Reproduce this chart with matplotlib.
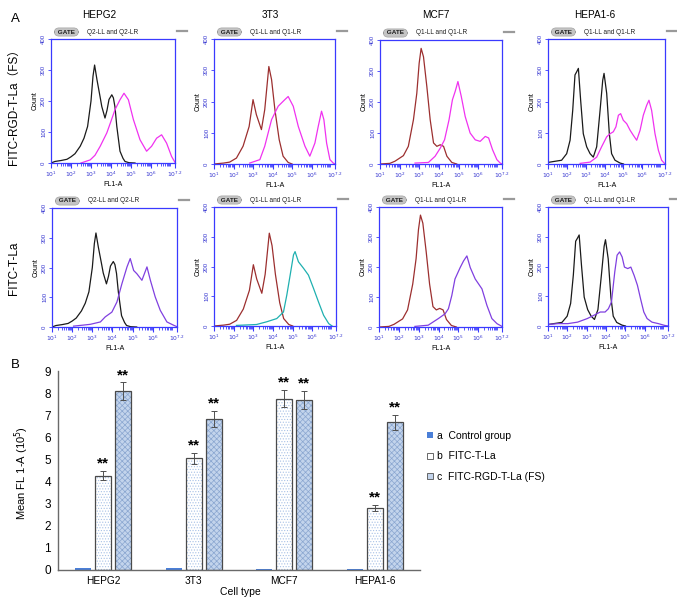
import matplotlib
matplotlib.use('Agg')
import matplotlib.pyplot as plt
import numpy as np
from matplotlib.lines import Line2D
from matplotlib.patches import Patch

plt.rcParams['font.family'] = ['Liberation Sans', 'DejaVu Sans']
plt.rcParams['hatch.linewidth'] = 0.5

# ---------------- data: panel A (log10 FL1-A, count) ----------------
cells = ['HEPG2', '3T3', 'MCF7', 'HEPA1-6']
gates = ['Q2-LL and Q2-LR', 'Q1-LL and Q1-LR', 'Q1-LL and Q1-LR', 'Q1-LL and Q1-LR']

hepg2_ctrl_u = [1.0, 1.2, 1.5, 1.8, 2.0, 2.2, 2.46, 2.65, 2.83, 3.0, 3.1, 3.18, 3.3, 3.45, 3.54, 3.7, 3.8, 3.9, 4.04, 4.12, 4.2, 4.29, 4.45, 4.6, 4.7, 4.9, 5.2]
hepg2_ctrl_c = [0, 5, 8, 12, 20, 30, 54, 80, 118, 200, 280, 316, 268, 215, 182, 145, 170, 205, 220, 210, 180, 118, 38, 15, 5, 1, 0]
hepg2_fs_u = [2.5, 2.96, 3.2, 3.46, 3.79, 4.0, 4.2, 4.45, 4.65, 4.87, 5.12, 5.45, 5.78, 6.03, 6.28, 6.53, 6.78, 7.03, 7.2]
hepg2_fs_c = [0, 10, 25, 54, 97, 135, 172, 204, 225, 204, 140, 75, 38, 54, 80, 91, 64, 21, 2]
hepg2_t_u = [2.07, 2.5, 2.9, 3.4, 3.64, 3.97, 4.22, 4.47, 4.72, 4.88, 5.05, 5.21, 5.46, 5.71, 5.88, 6.12, 6.37, 6.7, 7.03, 7.2]
hepg2_t_c = [3, 6, 9, 17, 34, 50, 84, 146, 202, 230, 190, 179, 157, 202, 157, 101, 56, 17, 6, 1]

t3_ctrl_u = [1.0, 1.5, 1.8, 2.15, 2.49, 2.8, 3.0, 3.17, 3.43, 3.6, 3.81, 3.95, 4.12, 4.34, 4.54, 4.8, 5.0]
t3_ctrl_c = [0, 3, 6, 19, 57, 120, 206, 158, 110, 174, 312, 270, 174, 78, 25, 5, 0]
t3_fs_u = [2.83, 3.35, 3.6, 3.95, 4.29, 4.63, 4.8, 5.06, 5.32, 5.66, 5.91, 6.17, 6.34, 6.51, 6.63, 6.77, 6.94, 7.11, 7.2]
t3_fs_c = [3, 14, 57, 142, 185, 206, 216, 185, 120, 57, 25, 67, 120, 169, 142, 67, 14, 3, 0]
t3_t_u = [2.14, 3.16, 3.67, 4.19, 4.53, 4.7, 4.87, 5.04, 5.12, 5.29, 5.55, 5.8, 6.06, 6.31, 6.57, 6.83, 7.0]
t3_t_c = [2, 5, 14, 25, 47, 104, 171, 239, 250, 216, 194, 171, 126, 81, 36, 8, 0]

mcf7_ctrl_u = [1.0, 1.5, 1.76, 2.19, 2.44, 2.7, 2.87, 2.99, 3.09, 3.21, 3.38, 3.55, 3.72, 3.89, 4.06, 4.23, 4.4, 4.65, 4.9]
mcf7_ctrl_c = [0, 2, 9, 27, 57, 143, 228, 325, 373, 346, 250, 143, 68, 57, 62, 57, 25, 5, 0]
mcf7_fs_u = [2.78, 3.46, 3.8, 4.06, 4.28, 4.51, 4.68, 4.82, 4.96, 5.13, 5.33, 5.58, 5.84, 6.09, 6.35, 6.52, 6.72, 6.94, 7.11, 7.2]
mcf7_fs_c = [3, 5, 25, 51, 78, 143, 207, 234, 266, 218, 153, 100, 78, 73, 89, 84, 46, 14, 3, 0]
mcf7_t_u = [2.81, 3.48, 3.99, 4.33, 4.5, 4.67, 4.83, 5.09, 5.26, 5.43, 5.6, 5.85, 6.19, 6.44, 6.69, 6.95, 7.2]
mcf7_t_c = [2, 6, 28, 44, 61, 105, 160, 198, 220, 237, 198, 160, 127, 72, 28, 11, 2]

hepa_ctrl_u = [1.0, 1.3, 1.72, 1.99, 2.17, 2.31, 2.43, 2.52, 2.61, 2.73, 2.87, 3.05, 3.23, 3.4, 3.58, 3.76, 3.9, 3.97, 4.11, 4.25, 4.37, 4.55, 4.82, 5.0]
hepa_ctrl_c = [5, 8, 12, 33, 76, 172, 285, 295, 306, 204, 97, 55, 33, 22, 55, 172, 268, 290, 226, 97, 33, 12, 3, 0]
hepa_fs_u = [2.7, 3.23, 3.58, 3.84, 4.11, 4.29, 4.46, 4.6, 4.73, 4.85, 4.99, 5.17, 5.35, 5.52, 5.7, 5.88, 6.05, 6.23, 6.35, 6.49, 6.67, 6.85, 7.02, 7.2]
hepa_fs_c = [2, 6, 22, 55, 87, 97, 103, 119, 156, 161, 140, 129, 108, 92, 76, 108, 156, 188, 204, 172, 97, 44, 12, 0]
hepa_t_u = [1.0, 1.53, 2.03, 2.53, 3.03, 3.37, 3.7, 3.95, 4.12, 4.28, 4.45, 4.57, 4.7, 4.83, 4.95, 5.12, 5.28, 5.45, 5.62, 5.78, 5.95, 6.12, 6.37, 6.7, 7.03, 7.2]
hepa_t_c = [5, 8, 8, 13, 25, 36, 47, 47, 58, 81, 182, 238, 249, 232, 198, 193, 198, 170, 137, 92, 47, 25, 13, 8, 2, 0]

ctrl_curves = [(hepg2_ctrl_u, hepg2_ctrl_c), (t3_ctrl_u, t3_ctrl_c), (mcf7_ctrl_u, mcf7_ctrl_c), (hepa_ctrl_u, hepa_ctrl_c)]
fs_curves = [(hepg2_fs_u, hepg2_fs_c), (t3_fs_u, t3_fs_c), (mcf7_fs_u, mcf7_fs_c), (hepa_fs_u, hepa_fs_c)]
t_curves = [(hepg2_t_u, hepg2_t_c), (t3_t_u, t3_t_c), (mcf7_t_u, mcf7_t_c), (hepa_t_u, hepa_t_c)]

hist_xticks = [1, 2, 3, 4, 5, 6, 7.2]
hist_xlabels = [r'$10^{1}$', r'$10^{2}$', r'$10^{3}$', r'$10^{4}$', r'$10^{5}$', r'$10^{6}$', r'$10^{7.2}$']
hist_yticks = [0, 100, 200, 300, 400]

# ---------------- data: panel B ----------------
groups = ['HEPG2', '3T3', 'MCF7', 'HEPA1-6']
series_names = ['a  Control group', 'b  FITC-T-La', 'c  FITC-RGD-T-La (FS)']
ctrl_vals = [0.08, 0.08, 0.05, 0.06]
t_vals = [4.27, 5.05, 7.75, 2.82]
t_err = [0.22, 0.25, 0.40, 0.13]
fs_vals = [8.08, 6.82, 7.70, 6.68]
fs_err = [0.40, 0.36, 0.40, 0.33]
t_sig = ['**', '**', '**', '**']
fs_sig = ['**', '**', '**', '**']

# ---------------- figure ----------------
W, H = 677, 603
fig = plt.figure(figsize=(W / 100, H / 100), dpi=100)


def fax(l, r, t, b):
    return fig.add_axes([l / W, 1 - b / H, (r - l) / W, (b - t) / H])


def fx(px):
    return px / W


def fy(py):
    return 1 - py / H


SP = '#3a3aff'
TB = '#3434d0'
ctrl_colors = ['#1a1a1a', '#9c2f2f', '#9c2f2f', '#1a1a1a']
fs_color = '#f032f0'
t_colors = ['#8040e0', '#1fb0b0', '#8040e0', '#8040e0']

top_boxes = [(51, 175, 39, 163), (214, 335, 39, 164), (380, 502, 40, 164), (548, 665, 39, 164)]
bot_boxes = [(52, 177, 208, 327), (214, 336, 207, 326), (379, 502, 207, 327), (548, 668, 207, 326)]
title_x = [99, 270, 436, 595]

minor_ticks = [d + np.log10(k) for d in range(1, 8) for k in range(2, 10) if d + np.log10(k) < 7.2]


def setup_hist(ax, box, gate_text):
    ax.set_xlim(1, 7.2)
    ax.set_ylim(0, 400)
    for s in ax.spines.values():
        s.set_color(SP)
        s.set_linewidth(0.9)
    ax.set_xticks(hist_xticks)
    ax.set_xticklabels(hist_xlabels, fontsize=4.3, color=TB)
    ax.set_xticks(minor_ticks, minor=True)
    ax.tick_params(axis='x', which='major', length=3.5, width=0.8, color=SP, pad=1.2)
    ax.tick_params(axis='x', which='minor', length=2.5, width=0.6, color=SP)
    ax.set_yticks(hist_yticks)
    ax.set_yticklabels([str(v) for v in hist_yticks], rotation=90, va='center', fontsize=4.3, color=TB)
    ax.tick_params(axis='y', length=2, width=0.6, color=SP, pad=1.5)
    ax.set_ylabel('Count', fontsize=5, labelpad=2)
    ax.set_xlabel('FL1-A', fontsize=5, labelpad=1.5)
    l, r, t, b = box
    fig.text(fx(l + 5), fy(t - 7), ' GATE ', fontsize=4.6, fontweight='bold', va='center', ha='left',
             color='#202020',
             bbox=dict(boxstyle='round,pad=0.25,rounding_size=0.7', fc='#c4c4c4', ec='#9a9a9a', lw=0.4))
    fig.text(fx(l + 36), fy(t - 7), gate_text, fontsize=4.7, va='center', ha='left', color='#202020')
    fig.add_artist(Line2D([fx(r + 2), fx(min(r + 12, 676))], [fy(t - 8), fy(t - 8)], color='#9a9a9a', lw=1.6))


for i in range(4):
    axt = fax(*top_boxes[i])
    setup_hist(axt, top_boxes[i], gates[i])
    axt.plot(ctrl_curves[i][0], ctrl_curves[i][1], color=ctrl_colors[i], lw=0.9)
    axt.plot(fs_curves[i][0], fs_curves[i][1], color=fs_color, lw=0.9)
    fig.text(fx(title_x[i]), fy(15), cells[i], fontsize=7.2, ha='center', va='center')

    axb_ = fax(*bot_boxes[i])
    setup_hist(axb_, bot_boxes[i], gates[i])
    axb_.plot(ctrl_curves[i][0], ctrl_curves[i][1], color=ctrl_colors[i], lw=0.9)
    axb_.plot(t_curves[i][0], t_curves[i][1], color=t_colors[i], lw=0.9)

fig.text(fx(15), fy(19), 'A', fontsize=9.5, ha='center', va='center')
fig.text(fx(14), fy(104), 'FITC-RGD-T-La（FS）', fontsize=8.5, rotation=90, ha='center', va='center',
         family=['Liberation Sans', 'Noto Sans CJK SC', 'DejaVu Sans'])
fig.text(fx(14), fy(268), 'FITC-T-La', fontsize=8.5, rotation=90, ha='center', va='center')

# ---------------- panel B ----------------
ax = fax(58, 420, 371, 570)
x = np.arange(len(groups))
bw = 0.18
off = 0.22
EDGE = '#4a4a4a'

ax.bar(x - off, ctrl_vals, bw, color='#4a7fd8', edgecolor='none')
ax.bar(x, t_vals, bw, color='white', edgecolor='#a9c2e6', hatch='......', lw=0)
ax.bar(x, t_vals, bw, fill=False, edgecolor=EDGE, lw=0.9)
ax.bar(x + off, fs_vals, bw, color='#c3d4ec', edgecolor='#8aa6d0', hatch='xxxxxx', lw=0)
ax.bar(x + off, fs_vals, bw, fill=False, edgecolor=EDGE, lw=0.9)
ax.errorbar(x, t_vals, yerr=t_err, fmt='none', ecolor='#505050', elinewidth=0.7, capsize=2, capthick=0.7)
ax.errorbar(x + off, fs_vals, yerr=fs_err, fmt='none', ecolor='#505050', elinewidth=0.7, capsize=2, capthick=0.7)
for i in range(len(groups)):
    ax.text(x[i], t_vals[i] + t_err[i] + 0.15, t_sig[i], ha='center', va='baseline', fontsize=11, fontweight='bold')
    ax.text(x[i] + off, fs_vals[i] + fs_err[i] + 0.15, fs_sig[i], ha='center', va='baseline', fontsize=11, fontweight='bold')

ax.set_xlim(-0.5, 3.5)
ax.set_ylim(0, 9)
ax.set_yticks(range(10))
ax.set_yticklabels([str(v) for v in range(10)], fontsize=8.5)
ax.set_xticks(x)
ax.set_xticklabels(groups, fontsize=7.3)
ax.tick_params(axis='both', length=0)
ax.tick_params(axis='y', pad=5)
ax.tick_params(axis='x', pad=4)
for s in ['top', 'right']:
    ax.spines[s].set_visible(False)
for s in ['left', 'bottom']:
    ax.spines[s].set_color('#6a6a6a')
    ax.spines[s].set_linewidth(1.0)

handles = [Patch(facecolor='#4a7fd8', edgecolor='none'),
           Patch(facecolor='white', edgecolor='#505050', lw=0.6),
           Patch(facecolor='#c3d4ec', edgecolor='#505050', lw=0.6)]
fig.legend(handles, series_names, loc='upper left', bbox_to_anchor=(fx(427), fy(431)), frameon=False,
           fontsize=7.5, handlelength=0.55, handleheight=0.55, handletextpad=0.45, labelspacing=1.0,
           borderaxespad=0, borderpad=0)

fig.text(fx(15), fy(365), 'B', fontsize=9.5, ha='center', va='center')
fig.text(fx(22), fy(473), 'Mean FL 1-A (10$^5$)', fontsize=8, rotation=90, ha='center', va='center')
fig.text(fx(240), fy(592), 'Cell type', fontsize=7.5, ha='center', va='center')

fig.savefig('out.png', dpi=100)
